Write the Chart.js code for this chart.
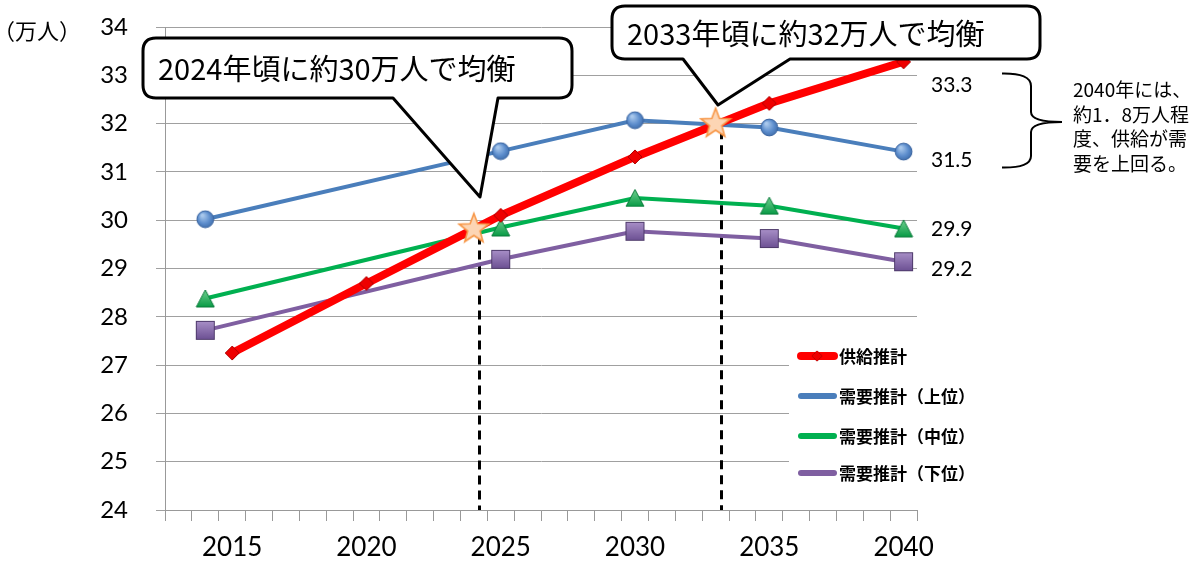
<!DOCTYPE html>
<html><head><meta charset="utf-8">
<script src="https://cdn.jsdelivr.net/npm/chart.js@4.4.1/dist/chart.umd.min.js"></script>
<style>html,body{margin:0;padding:0;background:#fff;}canvas{display:block;}</style>
</head><body>
<canvas id="c" width="1200" height="565"></canvas>
<script>
// ---- data ----
const categories = [2013,2014,2015,2016,2017,2018,2019,2020,2021,2022,2023,2024,2025,2026,2027,2028,2029,2030,2031,2032,2033,2034,2035,2036,2037,2038,2039,2040];
const xTickLabels = [2015,2020,2025,2030,2035,2040];
const yTicks = [24,25,26,27,28,29,30,31,32,33,34];
const supplyYears = [2015,2020,2025,2030,2035,2040];
const supplyValues = [27.25,28.69,30.10,31.31,32.42,33.28];
const demandYears = [2014,2025,2030,2035,2040];
const demandHigh = [30.02,31.43,32.07,31.92,31.42];
const demandMid = [28.38,29.85,30.46,30.30,29.83];
const demandLow = [27.72,29.19,29.77,29.62,29.14];
const balanceYears = [2024,2033];
const balanceValues = [29.85,32.03];
const balanceLineYears = [2024.2,2033.2];
const seriesNames = ['供給推計','需要推計（上位）','需要推計（中位）','需要推計（下位）'];
const seriesColors = ['#FF0000','#4A7EBB','#00B050','#7F5FA1'];
const endLabels = ['33.3','31.5','29.9','29.2'];
const callouts = ['2024年頃に約30万人で均衡','2033年頃に約32万人で均衡'];
const noteLines = ['2040年には、','約1．8万人程','度、供給が需','要を上回る。'];
const yUnit = '（万人）';

const JP = '"Noto Sans CJK JP","Noto Sans",sans-serif';
const LAT = 'Lato,"Open Sans","Noto Sans",sans-serif';

function pts(xs, ys){ return xs.map((x,i)=>({x:x,y:ys[i]})); }

// ---- marker images ----
function mk(w,h,draw){ const c=document.createElement('canvas'); c.width=w; c.height=h; draw(c.getContext('2d'),w,h); return c; }
const circleImg = mk(19,19,(g,w,h)=>{
  const gr=g.createRadialGradient(6.5,5.5,1,9.5,9.5,9.5); gr.addColorStop(0,'#a9c8ec'); gr.addColorStop(0.6,'#5b8ccc'); gr.addColorStop(1,'#3d6aa5');
  g.beginPath(); g.arc(9.5,9.5,8.4,0,Math.PI*2); g.fillStyle=gr; g.fill(); g.lineWidth=1; g.strokeStyle='#3a64a0'; g.stroke();
});
const triImg = mk(20,19,(g,w,h)=>{
  const gr=g.createLinearGradient(0,1,0,18); gr.addColorStop(0,'#6fd08f'); gr.addColorStop(1,'#089a45');
  g.beginPath(); g.moveTo(10,1); g.lineTo(19,18); g.lineTo(1,18); g.closePath(); g.fillStyle=gr; g.fill(); g.lineWidth=1; g.strokeStyle='#0a7a3a'; g.stroke();
});
const sqImg = mk(21,21,(g,w,h)=>{
  const gr=g.createLinearGradient(0,1,0,20); gr.addColorStop(0,'#a990c8'); gr.addColorStop(1,'#6b4f92');
  g.fillStyle=gr; g.fillRect(1.5,1.5,18,18); g.lineWidth=1; g.strokeStyle='#4e3a6b'; g.strokeRect(1.5,1.5,18,18);
});
const diaImg = mk(16,16,(g,w,h)=>{
  g.beginPath(); g.moveTo(8,1); g.lineTo(15,8); g.lineTo(8,15); g.lineTo(1,8); g.closePath(); g.fillStyle='#ee0000'; g.fill(); g.lineWidth=1; g.strokeStyle='#b00000'; g.stroke();
});
const starImg = mk(34,34,(g,w,h)=>{
  const cx=17, cy=18.5, R=15.5, r=6.5;
  g.beginPath();
  for(let i=0;i<10;i++){ const a=-Math.PI/2+i*Math.PI/5; const rr=i%2?r:R; const x=cx+rr*Math.cos(a), y=cy+rr*Math.sin(a); i?g.lineTo(x,y):g.moveTo(x,y); }
  g.closePath(); g.fillStyle='#FCD5B4'; g.fill(); g.lineWidth=1.6; g.strokeStyle='#F79646'; g.stroke();
});

// ---- overlay plugin ----
const overlay = {
  id:'overlay',
  beforeDatasetsDraw(chart){
    const ctx=chart.ctx, xs=chart.scales.x, ys=chart.scales.y;
    ctx.save(); ctx.strokeStyle='#000'; ctx.lineWidth=3; ctx.setLineDash([9,6]);
    balanceLineYears.forEach((yr,i)=>{
      const px=Math.round(xs.getPixelForValue(yr))+0.5;
      ctx.beginPath(); ctx.moveTo(px, ys.getPixelForValue(balanceValues[i])+8); ctx.lineTo(px, ys.getPixelForValue(yTicks[0])); ctx.stroke();
    });
    ctx.restore();
  },
  afterDraw(chart){
    const ctx=chart.ctx;
    ctx.save();
    ctx.fillStyle='#000'; ctx.font='22px '+JP; ctx.textBaseline='middle'; ctx.textAlign='left';
    ctx.fillText(yUnit, -7, 31);
    // legend
    ctx.fillStyle='#fff'; ctx.fillRect(789,336,200,150);
    const ly=[356,396,436,473];
    seriesNames.forEach((n,i)=>{
      ctx.strokeStyle=seriesColors[i]; ctx.lineCap='round'; ctx.lineWidth= i===0?8:6;
      ctx.beginPath(); ctx.moveTo(801,ly[i]); ctx.lineTo(834,ly[i]); ctx.stroke();
      if(i===0) ctx.drawImage(diaImg, 817-6, ly[i]-6, 12, 12);
      ctx.fillStyle='#000'; ctx.font='bold 17px '+JP; ctx.textAlign='left'; ctx.textBaseline='middle';
      ctx.fillText(n, 839, ly[i]+1);
    });
    // end labels
    ctx.font='21px '+LAT; ctx.fillStyle='#000'; ctx.textAlign='left'; ctx.textBaseline='middle';
    const ey=[85,160,229,269];
    endLabels.forEach((t,i)=>ctx.fillText(t, 931, ey[i]));
    // brace
    ctx.strokeStyle='#000'; ctx.lineWidth=2; ctx.lineCap='butt'; ctx.beginPath();
    ctx.moveTo(1002,73.5); ctx.quadraticCurveTo(1031,73,1031,86); ctx.lineTo(1031,112);
    ctx.quadraticCurveTo(1031,122,1062,122); ctx.quadraticCurveTo(1031,122,1031,132);
    ctx.lineTo(1031,156); ctx.quadraticCurveTo(1031,168,1002,167.5); ctx.stroke();
    // note
    ctx.font='19px '+JP; ctx.fillStyle='#000';
    noteLines.forEach((t,i)=>ctx.fillText(t, 1073, 90+i*24.5));
    // callouts
    const boxes=[{l:143,t:38,r:572,b:98,p1:393,p2:498,tx:480,ty:197},{l:612,t:6,r:1040,b:59,p1:683,p2:790,tx:718,ty:105}];
    boxes.forEach((b,i)=>{
      const rad=13;
      ctx.beginPath();
      ctx.moveTo(b.l+rad,b.t); ctx.lineTo(b.r-rad,b.t); ctx.quadraticCurveTo(b.r,b.t,b.r,b.t+rad);
      ctx.lineTo(b.r,b.b-rad); ctx.quadraticCurveTo(b.r,b.b,b.r-rad,b.b);
      ctx.lineTo(b.p2,b.b); ctx.lineTo(b.tx,b.ty); ctx.lineTo(b.p1,b.b);
      ctx.lineTo(b.l+rad,b.b); ctx.quadraticCurveTo(b.l,b.b,b.l,b.b-rad);
      ctx.lineTo(b.l,b.t+rad); ctx.quadraticCurveTo(b.l,b.t,b.l+rad,b.t); ctx.closePath();
      ctx.fillStyle='#fff'; ctx.fill(); ctx.lineWidth=3; ctx.lineJoin='round'; ctx.strokeStyle='#000'; ctx.stroke();
      ctx.fillStyle='#000'; ctx.font='29px '+JP; ctx.textAlign='left'; ctx.textBaseline='middle';
      ctx.fillText(callouts[i], b.l+15, (b.t+b.b)/2+1);
    });
    ctx.restore();
  }
};

new Chart(document.getElementById('c'), {
  type:'line',
  data:{ datasets:[
    { label:'balance', data:pts(balanceYears,balanceValues), showLine:false, pointStyle:starImg, pointRadius:16, order:0 },
    { label:seriesNames[0], data:pts(supplyYears,supplyValues), borderColor:seriesColors[0], borderWidth:8, pointStyle:diaImg, pointRadius:8, order:1, borderCapStyle:'round', borderJoinStyle:'round' },
    { label:seriesNames[1], data:pts(demandYears,demandHigh), borderColor:seriesColors[1], borderWidth:4, pointStyle:circleImg, pointRadius:9, order:2 },
    { label:seriesNames[2], data:pts(demandYears,demandMid), borderColor:seriesColors[2], borderWidth:4, pointStyle:triImg, pointRadius:10, order:3 },
    { label:seriesNames[3], data:pts(demandYears,demandLow), borderColor:seriesColors[3], borderWidth:4, pointStyle:sqImg, pointRadius:10, order:4 }
  ]},
  options:{
    responsive:false, animation:false, events:[],
    layout:{ padding:{ left:0, right:283, top:27, bottom:0 } },
    plugins:{ legend:{display:false}, tooltip:{enabled:false} },
    elements:{ line:{ tension:0, fill:false } },
    scales:{
      x:{ type:'linear', min:categories[0]-0.5, max:categories[categories.length-1]+0.5,
        afterBuildTicks:s=>{ s.ticks=categories.map(v=>({value:v})); },
        afterFit:s=>{ s.height=55; s.paddingLeft=0; s.paddingRight=0; },
        grid:{ offset:true, drawOnChartArea:false, drawTicks:true, tickLength:11, color:'#999', lineWidth:1 },
        border:{ color:'#999', width:1 },
        ticks:{ autoSkip:false, maxRotation:0, padding:11, color:'#000', font:{ family:LAT, size:26 },
          callback:v=> xTickLabels.includes(v) ? String(v) : '' }
      },
      y:{ min:yTicks[0], max:yTicks[yTicks.length-1],
        afterBuildTicks:s=>{ s.ticks=yTicks.map(v=>({value:v})); },
        afterFit:s=>{ s.width=165; s.paddingTop=0; s.paddingBottom=0; },
        grid:{ color:'#a0a0a0', lineWidth:1, tickLength:9 },
        border:{ color:'#999', width:1 },
        ticks:{ padding:28, color:'#000', font:{ family:LAT, size:24 } }
      }
    }
  },
  plugins:[overlay]
});
</script>
</body></html>
